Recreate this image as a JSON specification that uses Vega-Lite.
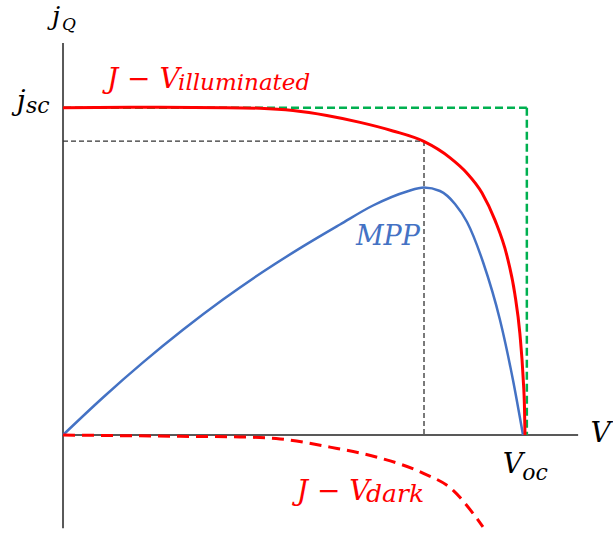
{
  "$schema": "https://vega.github.io/schema/vega-lite/v6.json",
  "width": 613,
  "height": 534,
  "autosize": "none",
  "padding": 0,
  "background": "white",
  "config": {"view": {"stroke": null}},
  "datasets": {
    "guides": [
      {"g": "axis", "V": -0.002, "j": 0, "V2": 1.115, "j2": 0},
      {"g": "axis", "V": 0, "j": 1.195, "V2": 0, "j2": -0.284},
      {"g": "ideal", "V": 0, "j": 0.998, "V2": 1.004, "j2": 0.998},
      {"g": "ideal", "V": 1.004, "j": 0.998, "V2": 1.004, "j2": 0},
      {"g": "mpp", "V": 0, "j": 0.896, "V2": 0.7814, "j2": 0.896},
      {"g": "mpp", "V": 0.7814, "j": 0.896, "V2": 0.7814, "j2": 0}
    ],
    "curves": [
      {"s": "light", "V": 0, "j": 0.998},
      {"s": "light", "V": 0.21, "j": 0.999},
      {"s": "light", "V": 0.355, "j": 0.998},
      {"s": "light", "V": 0.426, "j": 0.996},
      {"s": "light", "V": 0.498, "j": 0.989},
      {"s": "light", "V": 0.571, "j": 0.974},
      {"s": "light", "V": 0.643, "j": 0.953},
      {"s": "light", "V": 0.714, "j": 0.927},
      {"s": "light", "V": 0.781, "j": 0.895},
      {"s": "light", "V": 0.838, "j": 0.845},
      {"s": "light", "V": 0.874, "j": 0.799},
      {"s": "light", "V": 0.907, "j": 0.738},
      {"s": "light", "V": 0.935, "j": 0.655},
      {"s": "light", "V": 0.961, "j": 0.546},
      {"s": "light", "V": 0.978, "j": 0.43},
      {"s": "light", "V": 0.989, "j": 0.308},
      {"s": "light", "V": 0.996, "j": 0.174},
      {"s": "light", "V": 0.999, "j": 0.076},
      {"s": "light", "V": 1.0, "j": 0},
      {"s": "power", "V": 0, "j": 0},
      {"s": "power", "V": 0.0866, "j": 0.1143},
      {"s": "power", "V": 0.1732, "j": 0.2213},
      {"s": "power", "V": 0.2597, "j": 0.3207},
      {"s": "power", "V": 0.3463, "j": 0.4128},
      {"s": "power", "V": 0.4329, "j": 0.4976},
      {"s": "power", "V": 0.5195, "j": 0.575},
      {"s": "power", "V": 0.5996, "j": 0.6418},
      {"s": "power", "V": 0.671, "j": 0.6997},
      {"s": "power", "V": 0.7446, "j": 0.7424},
      {"s": "power", "V": 0.7814, "j": 0.7546},
      {"s": "power", "V": 0.816, "j": 0.7439},
      {"s": "power", "V": 0.8485, "j": 0.7043},
      {"s": "power", "V": 0.8745, "j": 0.6494},
      {"s": "power", "V": 0.9091, "j": 0.5274},
      {"s": "power", "V": 0.9459, "j": 0.3506},
      {"s": "power", "V": 0.974, "j": 0.1677},
      {"s": "power", "V": 0.9957, "j": 0},
      {"s": "dark", "V": 0, "j": 0},
      {"s": "dark", "V": 0.253, "j": -0.004},
      {"s": "dark", "V": 0.383, "j": -0.006},
      {"s": "dark", "V": 0.47, "j": -0.012},
      {"s": "dark", "V": 0.578, "j": -0.037},
      {"s": "dark", "V": 0.686, "j": -0.07},
      {"s": "dark", "V": 0.779, "j": -0.116},
      {"s": "dark", "V": 0.844, "j": -0.168},
      {"s": "dark", "V": 0.887, "j": -0.238},
      {"s": "dark", "V": 0.909, "j": -0.28}
    ],
    "labels": [
      {"k": "sym", "t": "V", "V": 1.142, "j": -0.021},
      {"k": "sym", "t": "V", "V": 0.952, "j": -0.116},
      {"k": "symsub", "t": "oc", "V": 0.994, "j": -0.137},
      {"k": "jq", "t": "j", "V": -0.024, "j": 1.25},
      {"k": "q", "t": "Q", "V": -0.002, "j": 1.235},
      {"k": "jsc", "t": "j", "V": -0.1, "j": 0.991},
      {"k": "symsub", "t": "sc", "V": -0.0801, "j": 0.982},
      {"k": "red", "t": "J − V", "V": 0.0952, "j": 1.058},
      {"k": "redsub", "t": "illuminated", "V": 0.249, "j": 1.052},
      {"k": "red", "t": "J − V", "V": 0.506, "j": -0.198},
      {"k": "redsub2", "t": "dark", "V": 0.656, "j": -0.204},
      {"k": "blue", "t": "MPP", "V": 0.634, "j": 0.579}
    ]
  },
  "encoding": {
    "x": {"field": "V", "type": "quantitative", "scale": {"domain": [-0.1364, 1.1905], "nice": false, "zero": false}, "axis": null},
    "y": {"field": "j", "type": "quantitative", "scale": {"domain": [-0.3018, 1.3262], "nice": false, "zero": false}, "axis": null}
  },
  "layer": [
    {
      "data": {"name": "guides"},
      "transform": [{"filter": "datum.g === 'axis'"}],
      "mark": {"type": "rule", "color": "#595959", "strokeWidth": 2},
      "encoding": {"x2": {"field": "V2"}, "y2": {"field": "j2"}}
    },
    {
      "data": {"name": "guides"},
      "transform": [{"filter": "datum.g === 'ideal'"}],
      "mark": {"type": "rule", "color": "#00B050", "strokeWidth": 2.5, "strokeDash": [8, 4]},
      "encoding": {"x2": {"field": "V2"}, "y2": {"field": "j2"}}
    },
    {
      "data": {"name": "guides"},
      "transform": [{"filter": "datum.g === 'mpp'"}],
      "mark": {"type": "rule", "color": "#333333", "strokeWidth": 1.3, "strokeDash": [5, 3]},
      "encoding": {"x2": {"field": "V2"}, "y2": {"field": "j2"}}
    },
    {
      "data": {"name": "curves"},
      "transform": [{"filter": "datum.s === 'power'"}],
      "mark": {"type": "line", "color": "#4472C4", "strokeWidth": 2.5, "interpolate": "monotone"},
      "encoding": {}
    },
    {
      "data": {"name": "curves"},
      "transform": [{"filter": "datum.s === 'light'"}],
      "mark": {"type": "line", "color": "#FF0000", "strokeWidth": 3, "interpolate": "monotone"},
      "encoding": {}
    },
    {
      "data": {"name": "curves"},
      "transform": [{"filter": "datum.s === 'dark'"}],
      "mark": {"type": "line", "color": "#FF0000", "strokeWidth": 3, "strokeDash": [12, 7], "interpolate": "monotone"},
      "encoding": {}
    },
    {
      "data": {"name": "labels"},
      "transform": [{"filter": "datum.k === 'sym'"}],
      "mark": {"type": "text", "font": "DejaVu Serif", "fontStyle": "italic", "fontSize": 28, "color": "#000000", "align": "left", "baseline": "alphabetic"},
      "encoding": {"text": {"field": "t"}}
    },
    {
      "data": {"name": "labels"},
      "transform": [{"filter": "datum.k === 'symsub'"}],
      "mark": {"type": "text", "font": "DejaVu Serif", "fontStyle": "italic", "fontSize": 22, "color": "#000000", "align": "left", "baseline": "alphabetic"},
      "encoding": {"text": {"field": "t"}}
    },
    {
      "data": {"name": "labels"},
      "transform": [{"filter": "datum.k === 'jq'"}],
      "mark": {"type": "text", "font": "DejaVu Serif", "fontStyle": "italic", "fontSize": 26, "color": "#000000", "align": "left", "baseline": "alphabetic"},
      "encoding": {"text": {"field": "t"}}
    },
    {
      "data": {"name": "labels"},
      "transform": [{"filter": "datum.k === 'q'"}],
      "mark": {"type": "text", "font": "DejaVu Serif", "fontStyle": "italic", "fontSize": 17, "color": "#000000", "align": "left", "baseline": "alphabetic"},
      "encoding": {"text": {"field": "t"}}
    },
    {
      "data": {"name": "labels"},
      "transform": [{"filter": "datum.k === 'jsc'"}],
      "mark": {"type": "text", "font": "DejaVu Serif", "fontStyle": "italic", "fontSize": 28, "color": "#000000", "align": "left", "baseline": "alphabetic"},
      "encoding": {"text": {"field": "t"}}
    },
    {
      "data": {"name": "labels"},
      "transform": [{"filter": "datum.k === 'red'"}],
      "mark": {"type": "text", "font": "DejaVu Serif", "fontStyle": "italic", "fontSize": 28, "color": "#FF0000", "align": "left", "baseline": "alphabetic"},
      "encoding": {"text": {"field": "t"}}
    },
    {
      "data": {"name": "labels"},
      "transform": [{"filter": "datum.k === 'redsub'"}],
      "mark": {"type": "text", "font": "DejaVu Serif", "fontStyle": "italic", "fontSize": 23, "color": "#FF0000", "align": "left", "baseline": "alphabetic"},
      "encoding": {"text": {"field": "t"}}
    },
    {
      "data": {"name": "labels"},
      "transform": [{"filter": "datum.k === 'redsub2'"}],
      "mark": {"type": "text", "font": "DejaVu Serif", "fontStyle": "italic", "fontSize": 25, "color": "#FF0000", "align": "left", "baseline": "alphabetic"},
      "encoding": {"text": {"field": "t"}}
    },
    {
      "data": {"name": "labels"},
      "transform": [{"filter": "datum.k === 'blue'"}],
      "mark": {"type": "text", "font": "DejaVu Serif", "fontStyle": "italic", "fontSize": 27, "color": "#4472C4", "align": "left", "baseline": "alphabetic"},
      "encoding": {"text": {"field": "t"}}
    }
  ]
}
